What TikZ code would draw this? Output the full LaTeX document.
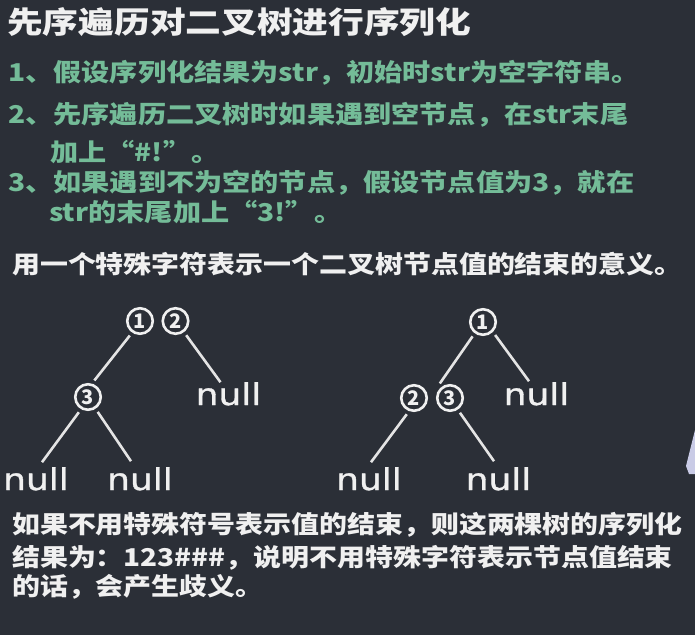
\documentclass[tikz,border=0pt]{standalone}
\usepackage{fontspec}
\usepackage{graphicx}
\setmainfont{Noto Sans CJK SC}
\newfontfamily\dejavu{DejaVu Sans}[FakeBold=1]
\definecolor{bg}{HTML}{2B2F37}
\definecolor{grn}{HTML}{74BC98}
\definecolor{wht}{HTML}{F0F0F0}
\definecolor{edgec}{HTML}{E4E4E4}
\definecolor{blob}{HTML}{C9CBE6}
\tikzset{
  titletext/.style={anchor=base west, inner sep=0pt, text=wht, font=\fontsize{30}{30}\selectfont\bfseries},
  greentext/.style={anchor=base west, inner sep=0pt, text=grn, font=\fontsize{24.5}{24.5}\selectfont\bfseries},
  bodytext/.style={anchor=base west, inner sep=0pt, text=wht, font=\fontsize{24.5}{24.5}\selectfont\bfseries},
  tnode/.style={circle, draw=wht, line width=2.6pt, minimum size=25.5pt, inner sep=0pt, outer sep=5pt, text=wht, font=\fontsize{20}{20}\selectfont\bfseries},
  nullnode/.style={anchor=base, inner sep=0pt, outer sep=0pt, text=wht, font=\fontsize{30}{30}\selectfont\dejavu},
  treeedge/.style={draw=edgec, line width=2.6pt}
}
\newcommand{\gsc}[1]{\scalebox{1.15}[1]{#1}}
\newcommand{\bsc}[1]{\scalebox{1.14}[1]{#1}}
\begin{document}
\begin{tikzpicture}[x=1pt,y=-1pt]
\fill[bg] (0,0) rectangle (695,635);
\useasboundingbox (0,0) rectangle (695,635);

% title
\node[titletext] (title) at (7,33) {\scalebox{1.19}[1]{先序遍历对二叉树进行序列化}};

% green list
\node[greentext] (g1) at (8,81) {\gsc{1、假设序列化结果为str，初始时str为空字符串。}};
\node[greentext] (g2) at (8,123) {\gsc{2、先序遍历二叉树时如果遇到空节点，在str末尾}};
\node[greentext] (g2b) at (50,161) {\gsc{加上“\#!”。}};
\node[greentext] (g3) at (8,191) {\gsc{3、如果遇到不为空的节点，假设节点值为3，就在}};
\node[greentext] (g3b) at (49,221) {\gsc{str的末尾加上“3!”。}};

% white statement
\node[bodytext] (m1) at (12,273) {\bsc{用一个特殊字符表示一个二叉树节点值的结束的意义。}};

% tree 1
\node[tnode] (a1) at (140,321) {1};
\node[tnode] (a2) at (175.5,321) {2};
\node[tnode] (a3) at (88,397) {3};
\node[nullnode] (na) at (228.5,405) {\scalebox{1.2}[1]{null}};
\node[nullnode] (nb) at (36,490) {\scalebox{1.2}[1]{null}};
\node[nullnode] (nc) at (140,490) {\scalebox{1.2}[1]{null}};
\draw[treeedge] (a1.235) -- (a3.69);
\draw[treeedge] (a2.307) -- ([xshift=-8pt]na.north);
\draw[treeedge] (a3.239) -- ([xshift=6pt,yshift=5pt]nb.north);
\draw[treeedge] (a3.303) -- ([xshift=-9pt,yshift=6pt]nc.north);

% tree 2
\node[tnode] (b1) at (483,322) {1};
\node[tnode] (b2) at (414,398) {2};
\node[tnode] (b3) at (450,398) {3};
\node[nullnode] (nd) at (536.5,405) {\scalebox{1.2}[1]{null}};
\node[nullnode] (ne) at (369,490) {\scalebox{1.2}[1]{null}};
\node[nullnode] (nf) at (498.5,490) {\scalebox{1.2}[1]{null}};
\draw[treeedge] (b1.234) -- (b3.125);
\draw[treeedge] (b1.313) -- ([xshift=-7.5pt,yshift=1pt]nd.north);
\draw[treeedge] (b2.246) -- ([xshift=2pt,yshift=5pt]ne.north);
\draw[treeedge] (b3.304) -- ([xshift=-4.5pt,yshift=6pt]nf.north);

% bottom text
\node[bodytext] (p1) at (12,533) {\bsc{如果不用特殊符号表示值的结束，则这两棵树的序列化}};
\node[bodytext] (p2) at (12,566) {\bsc{结果为：123\#\#\#，说明不用特殊字符表示节点值结束}};
\node[bodytext] (p3) at (12,595) {\bsc{的话，会产生歧义。}};

% light shape at right edge
\fill[blob] (695,430) -- (690,450) -- (686,466) -- (689,474) -- (695,474) -- cycle;
\end{tikzpicture}
\end{document}
